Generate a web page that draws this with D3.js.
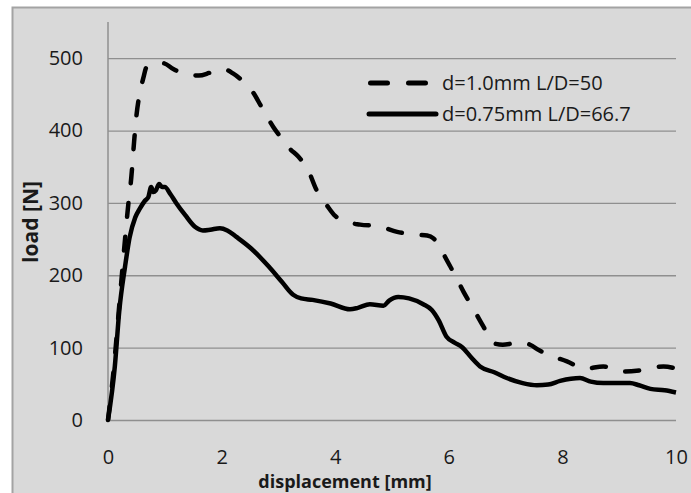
<!DOCTYPE html>
<html>
<head>
<meta charset="utf-8">
<script src="https://cdn.jsdelivr.net/npm/d3@7"></script>
<style>
  body { margin: 0; background: #fff; }
  text { font-family: "Open Sans", "Noto Sans", sans-serif; fill: #1a1a1a; }
</style>
</head>
<body>
<svg id="chart"></svg>
<script>
// displacement [mm] / load [N]
let seriesNames = ['d=1.0mm L/D=50', 'd=0.75mm L/D=66.7']

let dispA = [0, 0.1, 0.2, 0.3, 0.36, 0.41, 0.46, 0.5, 0.56, 0.62, 0.68, 0.8, 0.97, 1.15, 1.32, 1.6, 1.8, 2.03, 2.2, 2.35,
    2.56, 2.7, 2.91, 3.08, 3.2, 3.35, 3.52, 3.67, 3.85, 4.0, 4.15, 4.44, 4.75, 5.09, 5.43, 5.62, 5.73, 5.85, 5.93, 6.11,
    6.26, 6.43, 6.61, 6.79, 6.95, 7.14, 7.3, 7.43, 7.6, 7.76, 8.08, 8.4, 8.72, 9.08, 9.4, 9.78, 10]
let loadA = [0, 70, 160, 250, 300, 335, 385, 420, 452, 472, 488, 492, 493, 485, 479, 476, 480, 485, 479, 470,
    452, 433, 405, 387, 375, 364, 346, 318, 297, 282, 275, 270, 268, 260, 256, 255, 251, 238, 226, 200,
    177, 154, 129, 106, 104, 106, 107, 104, 96, 90, 81, 71, 74, 67, 69, 74, 71]

let dispB = [0, 0.12, 0.2, 0.3, 0.38, 0.48, 0.56, 0.65, 0.71, 0.76, 0.8, 0.84, 0.9, 0.95, 1.0, 1.1, 1.2, 1.36, 1.53, 1.67,
    1.8, 1.97, 2.1, 2.26, 2.52, 2.83, 3.06, 3.26, 3.4, 3.6, 3.92, 4.26, 4.4, 4.61, 4.85, 4.95, 5.11, 5.3, 5.55, 5.7,
    5.82, 5.96, 6.1, 6.23, 6.4, 6.55, 6.8, 7.02, 7.3, 7.55, 7.75, 7.96, 8.15, 8.31, 8.5, 8.72, 9.0, 9.19, 9.35, 9.55, 9.8, 10]
let loadB = [0, 74, 152, 212, 252, 280, 292, 303, 308, 322, 315, 317, 326, 322, 322, 312, 300, 283, 267, 262,
    263, 265, 262, 253, 237, 212, 191, 173, 168, 166, 161, 153, 155, 160, 158, 165, 170, 168, 160, 152,
    138, 115, 107, 101, 86, 74, 66, 58, 51, 48, 49, 54, 57, 58, 53, 51, 51, 51, 48, 43, 41, 38]

let xTicks = [0, 2, 4, 6, 8, 10]
let yTicks = [0, 100, 200, 300, 400, 500]

let width = 691, height = 493
let m = {top: 22, left: 108, right: 15, bottom: 73}

let svg = d3.select('#chart').attr('width', width).attr('height', height)

// chart area with grey fill and border (runs off the right and bottom edge)
svg.append('rect')
    .attr('x', 12.5).attr('y', 7.5)
    .attr('width', 700).attr('height', 500)
    .attr('fill', '#d9d9d9')
    .attr('stroke', '#a3a3a3')
    .attr('stroke-width', 2)

let xScale = d3.scaleLinear().domain([0, 10]).range([m.left, width - m.right])
let yScale = d3.scaleLinear().domain([0, 550]).range([height - m.bottom, m.top])

// gridlines
svg.append('g')
    .call(d3.axisLeft(yScale).tickValues(yTicks).tickSize(-(xScale(10) - xScale(0))).tickFormat(''))
    .attr('transform', `translate(${xScale(0)}, 0)`)
    .call(g => g.select('.domain').remove())
    .selectAll('line')
    .attr('stroke', '#8f8f8f')
    .attr('stroke-width', 1.3)

// y axis line
svg.append('line')
    .attr('x1', xScale(0)).attr('x2', xScale(0))
    .attr('y1', yScale(550)).attr('y2', yScale(0))
    .attr('stroke', '#8f8f8f')
    .attr('stroke-width', 1.5)

// y tick labels
svg.append('g')
    .call(d3.axisLeft(yScale).tickValues(yTicks).tickSize(0).tickPadding(25))
    .attr('transform', `translate(${xScale(0)}, 0)`)
    .call(g => g.select('.domain').remove())
    .selectAll('text')
    .style('font-size', '20px')
    .attr('font-family', null)

// x tick labels
svg.append('g')
    .call(d3.axisBottom(xScale).tickValues(xTicks).tickSize(0).tickPadding(30))
    .attr('transform', `translate(0, ${yScale(0)})`)
    .call(g => g.select('.domain').remove())
    .selectAll('text')
    .style('font-size', '20px')
    .attr('font-family', null)

// axis titles
svg.append('text')
    .text('displacement [mm]')
    .attr('x', 345).attr('y', 488)
    .attr('text-anchor', 'middle')
    .style('font-size', '18px')
    .style('font-weight', 'bold')

svg.append('text')
    .text('load [N]')
    .attr('transform', 'translate(38, 222) rotate(-90)')
    .attr('text-anchor', 'middle')
    .style('font-size', '21px')
    .style('font-weight', 'bold')

let line = d3.line()
    .x(d => xScale(d[0]))
    .y(d => yScale(d[1]))
    .curve(d3.curveMonotoneX)

let series = [
    {name: seriesNames[0], pts: d3.zip(dispA, loadA), dash: '14,20'},
    {name: seriesNames[1], pts: d3.zip(dispB, loadB), dash: null}
]

svg.selectAll('path.curve')
    .data(series)
    .enter().append('path')
    .attr('class', 'curve')
    .attr('d', d => line(d.pts))
    .attr('fill', 'none')
    .attr('stroke', '#000')
    .attr('stroke-width', 4.5)
    .attr('stroke-linecap', d => d.dash ? 'round' : 'butt')
    .attr('stroke-linejoin', 'round')
    .attr('stroke-dasharray', d => d.dash)

// legend
let legend = svg.append('g')
let legY = [83, 114]

legend.append('line')
    .attr('x1', 370.5).attr('x2', 425.5)
    .attr('y1', legY[0]).attr('y2', legY[0])
    .attr('stroke', '#000').attr('stroke-width', 5)
    .attr('stroke-linecap', 'round')
    .attr('stroke-dasharray', '17,21')

legend.append('line')
    .attr('x1', 369).attr('x2', 436)
    .attr('y1', legY[1]).attr('y2', legY[1])
    .attr('stroke', '#000').attr('stroke-width', 5)
    .attr('stroke-linecap', 'round')

legend.selectAll('text')
    .data(seriesNames)
    .enter().append('text')
    .text(d => d)
    .attr('x', 442)
    .attr('y', (d, i) => legY[i] + 7)
    .style('font-size', '20px')
</script>
</body>
</html>
